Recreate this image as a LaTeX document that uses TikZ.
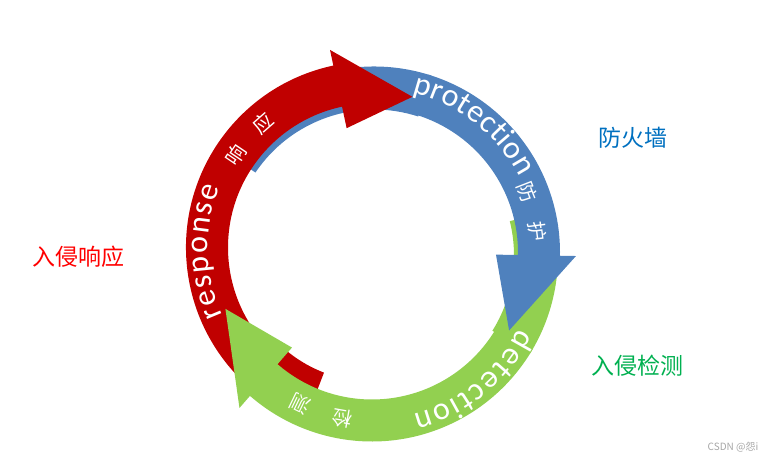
\documentclass[tikz,border=0pt]{standalone}
\usepackage{fontspec}
\setmainfont{Carlito}
\newfontfamily\cjkfont{Noto Sans CJK SC}
\usetikzlibrary{decorations.text}
\definecolor{resred}{RGB}{192,0,0}
\definecolor{problue}{RGB}{79,129,189}
\definecolor{detgreen}{RGB}{146,208,80}
\definecolor{labred}{RGB}{255,0,0}
\definecolor{labblue}{RGB}{0,112,192}
\definecolor{labgreen}{RGB}{0,176,80}

\begin{document}
\begin{tikzpicture}[x=1pt, y=1pt,
  ring text/.style={decorate, decoration={text along path, text align=fit to path,
    text={|\fontsize{32}{33}\selectfont\color{white}|#1}}},
  arc char/.style={text=white, font=\cjkfont\fontsize{20}{20}\selectfont, inner sep=0pt},
  side label/.style={font=\cjkfont\fontsize{23}{23}\selectfont, inner sep=0pt}]
\path[use as bounding box] (0,0) rectangle (772,461);
\coordinate (R) at (372,213.5);
\coordinate (B) at (374,208.5);
\coordinate (G) at (372,205.5);
% tails, hidden under the head before them
\foreach \col/\c/\a/\b/\ri in {problue/B/146/72/143, detgreen/G/14/-32/142, resred/R/249/227/134}
  \fill[\col, shift={(\c)}] (\a:\ri) arc[start angle=\a, end angle=\b, radius=\ri pt]
    -- (\b:186) arc[start angle=\b, end angle=\a, radius=186pt] -- cycle;
% bodies with heads
\foreach \col/\c/\a/\b/\t in {resred/R/228/102/75, problue/B/73/-1/-30, detgreen/G/-30/-131/-160}
  \fill[\col, shift={(\c)}] (\a:144) arc[start angle=\a, end angle=\b, radius=144pt]
    -- (\b:122) -- (\t:156) -- (\b:202) -- (\b:186)
    arc[start angle=\b, end angle=\a, radius=186pt] -- cycle;
\path[ring text=protection] (B) ++(76.5:164) arc[start angle=76.5, end angle=27.5, radius=164pt];
\path[ring text=response] (R) ++(204.5:164) arc[start angle=204.5, end angle=158.5, radius=164pt];
\path[ring text=detection] (G) ++(-26.5:164) arc[start angle=-26.5, end angle=-75.5, radius=164pt];
\foreach \c/\ang/\ch [count=\i] in {B/21.4/防, B/7.2/护, R/145.9/响, R/131.2/应, G/-100.2/检, G/-115.8/测}
  \path (\c) ++(\ang:165) node[arc char, rotate=\ang-90] (ch\i) {\ch};
\node[side label, text=labblue] (firewall) at (633,323) {防火墙};
\node[side label, text=labgreen] (detect) at (637.5,95.5) {入侵检测};
\node[side label, text=labred] (respond) at (78.5,204) {入侵响应};
\node[font=\cjkfont\fontsize{10}{10}\selectfont, text=gray!70, inner sep=0pt] (mark) at (733,14) {CSDN @怨i};
\end{tikzpicture}
\end{document}
